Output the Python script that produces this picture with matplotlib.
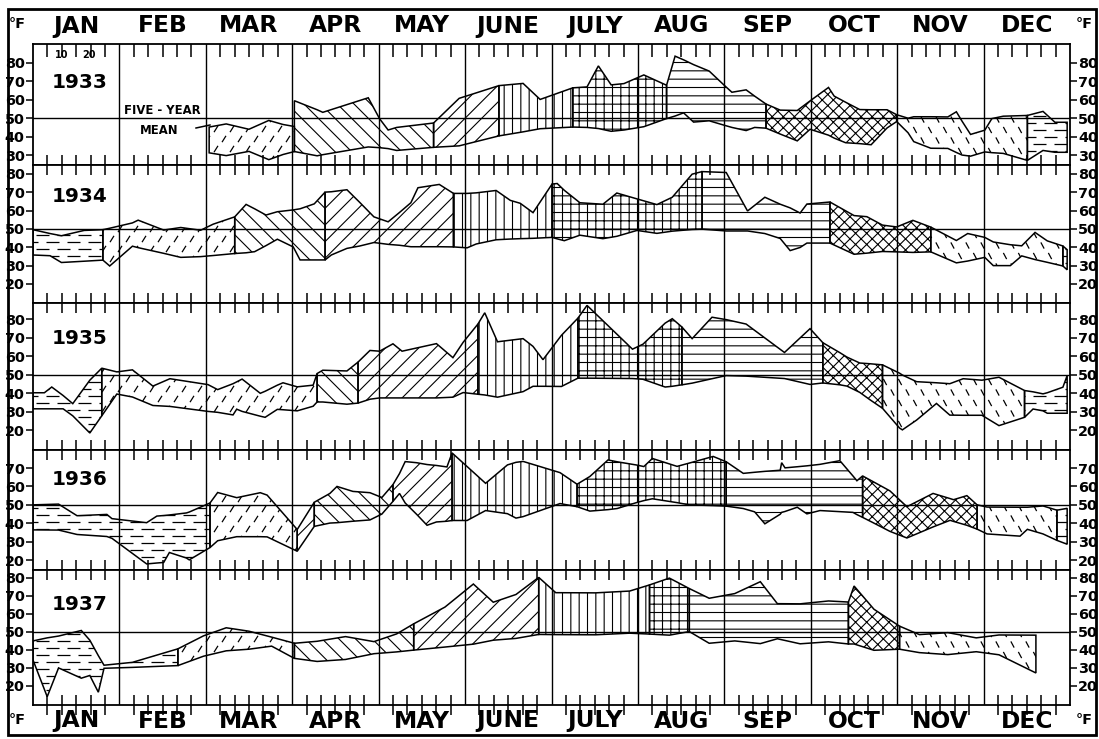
import numpy as np
import matplotlib.pyplot as plt
from matplotlib.patches import Polygon, Rectangle
from matplotlib.collections import LineCollection
from matplotlib.lines import Line2D
from matplotlib import font_manager

installed = {f.name for f in font_manager.fontManager.ttflist}
NARROW = 'Liberation Sans Narrow' in installed
plt.rcParams['font.family'] = 'Liberation Sans Narrow' if NARROW else 'DejaVu Sans'
plt.rcParams['hatch.linewidth'] = 0.8
FS = 1.0 if NARROW else 0.8   # DejaVu runs wider

months = ['JAN', 'FEB', 'MAR', 'APR', 'MAY', 'JUNE',
          'JULY', 'AUG', 'SEP', 'OCT', 'NOV', 'DEC']
years = [1933, 1934, 1935, 1936, 1937]

# weekly max / min temperature (deg F), x = day of year
days_1933 = [62, 68, 76, 83, 88, 92, 92, 100, 102, 118, 122, 125, 128, 141, 150,
             164, 172.5, 178.5, 190, 195, 199, 203.5, 208, 215, 223, 226, 229,
             232.5, 238, 243.5, 246, 251, 254, 258, 263, 269, 273.5, 280, 282,
             286, 291, 295, 300.6, 304, 308, 310, 316, 322, 325, 327, 330, 335,
             337.5, 341.5, 350, 355.5, 359.7, 364]
hi_1933 = [45.2, 46.9, 44.0, 48.8, 46.6, 45.5, 59.5, 54.6, 53.2, 61.1, 49.7, 43.6,
           45.0, 47.4, 60.8, 67.7, 68.9, 60.2, 66.5, 67.0, 78.4, 68.1, 68.8, 73.5,
           67.9, 83.7, 81.7, 79.1, 75.6, 67.6, 64.1, 65.4, 62.0, 57.7, 54.4, 54.2,
           59.4, 66.7, 62.0, 58.7, 54.7, 54.6, 54.6, 51.9, 50.0, 50.8, 50.8, 50.7,
           53.5, 48.4, 41.2, 43.5, 49.8, 51.1, 51.5, 53.7, 47.8, 47.8]
lo_1933 = [31.2, 29.7, 32.0, 27.5, 30.3, 31.9, 31.9, 29.6, 30.2, 34.4, 34.0, 33.5,
           32.5, 34.2, 35.0, 40.4, 42.6, 44.3, 45.2, 45.0, 44.4, 42.9, 43.6, 45.4,
           49.8, 51.2, 52.9, 47.9, 48.6, 46.1, 45.0, 43.3, 45.0, 44.6, 41.4, 37.7,
           44.0, 40.8, 39.2, 36.7, 36.2, 35.6, 44.7, 48.2, 42.1, 37.3, 33.7, 33.6,
           31.4, 30.0, 29.4, 31.7, 31.3, 30.9, 27.1, 32.5, 31.5, 31.5]
runs_1933 = [('f', 5), (' ', 1), ('B', 7), ('F', 2), ('v', 3), ('g', 6),
             ('r', 9), ('x', 10), ('b', 11), ('h', 3)]

days_1934 = [0, 6, 10, 18, 24.6, 27, 35, 37, 46, 52, 59, 63.4, 71, 75, 78, 82, 86,
             91.6, 94, 99, 102.8, 105, 110.5, 115, 120, 125, 129, 133, 135.5, 143,
             148, 152.8, 156, 163, 168, 171.5, 176, 182.7, 184.5, 187, 192.5,
             200.6, 205.5, 212.6, 219.6, 225, 232, 235.5, 244, 251.5, 257.6, 263,
             266.5, 270, 272.4, 280.5, 289, 293.5, 299, 304, 309.7, 316, 325, 329,
             335, 338, 344, 348, 352.7, 357, 362.5, 364]
hi_1934 = [49.6, 47.5, 46.3, 49.2, 49.6, 50.4, 53.3, 54.8, 49.4, 50.8, 49.3, 52.6,
           56.6, 63.4, 61.0, 57.6, 59.4, 60.4, 61.0, 63.7, 70.1, 70.3, 71.4, 64.5,
           56.6, 53.9, 59.0, 64.3, 72.5, 74.3, 69.4, 69.4, 69.7, 71.0, 65.6, 64.0,
           58.9, 74.5, 74.8, 71.1, 64.3, 63.5, 69.6, 66.4, 63.3, 67.3, 79.9, 81.3,
           80.8, 59.8, 67.3, 63.5, 61.5, 58.7, 63.6, 64.7, 57.3, 56.7, 52.1, 51.1,
           54.7, 51.0, 43.7, 47.5, 45.4, 42.9, 41.4, 40.8, 48.1, 43.5, 40.7, 38.7]
lo_1934 = [35.8, 35.4, 31.7, 32.4, 33.0, 29.8, 40.6, 39.8, 36.7, 34.5, 34.9, 35.5,
           36.6, 37.0, 37.6, 40.9, 44.4, 40.2, 33.1, 33.1, 33.1, 35.8, 39.4, 40.7,
           42.6, 41.6, 41.1, 40.3, 40.3, 40.3, 40.2, 39.7, 41.8, 44.1, 44.5, 44.7,
           44.9, 45.4, 44.6, 43.6, 46.6, 44.7, 46.0, 49.2, 47.6, 48.8, 49.7, 49.9,
           48.9, 48.9, 47.5, 44.8, 38.2, 39.9, 42.3, 42.3, 36.2, 36.8, 37.7, 37.5,
           37.2, 37.5, 31.5, 32.5, 34.5, 30.0, 30.0, 35.3, 33.3, 31.8, 29.8, 27.7]
runs_1934 = [('h', 4), ('f', 8), ('B', 8), ('F', 10), ('v', 7), ('g', 10),
             ('r', 8), ('x', 6), ('b', 9), ('h', 1)]

days_1935 = [0, 4, 6.6, 10.6, 14, 20, 24.2, 29.5, 35, 42.2, 48.2, 61.6, 65, 70.4,
             71.7, 73.6, 80, 81.7, 86, 88, 93, 98.6, 100, 102, 110.5, 114.4, 118.6,
             122, 126.7, 129.9, 142, 147.8, 151.4, 156.6, 159, 163.5, 172.5, 176,
             179.5, 186, 191.8, 195, 211, 214.7, 222.5, 225, 228.4, 232, 239, 244,
             251, 264.5, 273.5, 278, 284, 286.5, 291, 294.6, 299, 305, 306, 311,
             318, 322.7, 327.4, 334, 340, 349, 352, 355.5, 357, 362.5, 364]
hi_1935 = [40.2, 40.2, 43.3, 38.7, 34.3, 47.0, 53.5, 51.5, 52.6, 43.8, 47.8, 44.6,
           41.9, 45.1, 46.1, 47.6, 39.9, 41.0, 44.3, 45.6, 43.4, 44.3, 50.6, 52.4,
           52.0, 56.8, 63.1, 62.7, 66.7, 62.7, 66.8, 59.2, 67.5, 77.4, 83.5, 67.8,
           69.5, 65.3, 58.1, 71.3, 80.6, 87.5, 63.8, 66.5, 77.9, 80.3, 75.8, 69.5,
           81.1, 79.8, 77.4, 62.0, 74.9, 67.3, 61.9, 59.5, 56.3, 55.9, 55.3, 50.8,
           49.8, 46.2, 45.6, 45.1, 47.8, 47.0, 48.6, 41.4, 40.7, 39.6, 40.2, 43.2,
           49.5]
lo_1935 = [31.5, 31.5, 31.5, 31.5, 27.7, 18.4, 27.7, 39.5, 37.9, 33.3, 32.8, 30.1,
           29.6, 28.2, 31.3, 30.1, 27.5, 26.9, 31.2, 31.0, 30.4, 32.9, 35.2, 35.2,
           34.0, 34.6, 36.7, 37.4, 37.4, 37.4, 37.4, 37.8, 40.3, 39.4, 39.0, 37.8,
           40.8, 43.7, 43.7, 43.6, 48.1, 48.1, 47.9, 47.5, 43.3, 43.7, 44.5, 45.4,
           47.8, 49.5, 49.2, 47.9, 44.7, 45.5, 44.5, 43.8, 40.4, 36.4, 31.8, 21.1,
           20.1, 25.4, 34.4, 28.1, 28.0, 28.0, 22.4, 26.9, 31.4, 30.4, 29.1, 29.1,
           29.1]
runs_1935 = [('h', 6), ('f', 16), ('B', 3), ('F', 8), ('v', 7), ('g', 6),
             ('r', 7), ('x', 5), ('b', 9), ('h', 5)]

days_1936 = [0, 9, 15.5, 26, 27.8, 40, 43.6, 46, 48, 54, 55, 62.3, 65, 71.7, 80,
             82.4, 93, 99, 104.5, 107, 112.6, 118.6, 122.8, 126.7, 129, 131, 135,
             138.7, 142, 145.7, 147.5, 152.8, 159.3, 167, 170, 172.5, 185.5, 191.5,
             196, 202.4, 205.6, 212.6, 215, 218, 226.7, 231, 239.4, 244, 250, 254,
             257.6, 263, 263.5, 264.7, 269, 272.4, 277, 284, 288.6, 290, 292, 295.7,
             301.6, 307.6, 316.8, 322.8, 324, 328.7, 332.3, 335.8, 347.4, 350,
             355.5, 360.4, 364]
hi_1936 = [50.0, 50.4, 44.1, 44.8, 42.5, 40.3, 43.9, 44.2, 44.5, 45.6, 46.1, 51.0,
           56.7, 53.9, 56.6, 55.3, 36.6, 51.4, 56.2, 60.0, 57.3, 56.6, 54.0, 61.0,
           67.0, 73.5, 72.9, 71.9, 71.4, 70.6, 78.2, 70.8, 61.7, 71.7, 73.1, 73.6,
           67.5, 61.2, 65.4, 74.4, 73.4, 71.6, 70.8, 75.2, 70.9, 72.7, 76.3, 73.4,
           67.1, 67.7, 68.2, 68.8, 72.9, 70.1, 70.7, 71.2, 72.0, 74.0, 65.7, 63.1,
           65.7, 62.6, 57.6, 49.0, 56.2, 53.4, 52.8, 55.0, 50.0, 48.8, 48.7, 48.7,
           49.4, 47.1, 48.1]
lo_1936 = [36.4, 36.3, 33.9, 32.8, 31.8, 17.9, 18.4, 18.7, 24.1, 21.1, 20.1, 26.8,
           30.5, 32.7, 32.7, 32.6, 24.8, 38.3, 40.1, 40.3, 41.1, 41.8, 45.0, 51.9,
           56.2, 51.0, 44.9, 38.9, 40.7, 41.1, 41.5, 41.5, 46.9, 45.2, 42.8, 43.6,
           50.7, 49.0, 46.6, 47.4, 48.0, 51.3, 52.3, 53.3, 51.2, 50.0, 49.6, 49.3,
           48.0, 46.2, 39.7, 44.9, 45.9, 46.4, 48.7, 45.1, 46.9, 46.3, 45.9, 44.7,
           43.2, 40.3, 35.6, 32.0, 38.0, 41.6, 41.0, 38.9, 36.8, 34.2, 33.0, 36.7,
           34.2, 30.7, 28.6]
runs_1936 = [('h', 11), ('f', 5), ('F', 1), ('B', 6), ('F', 7), ('v', 7),
             ('g', 10), ('r', 13), ('x', 8), ('b', 5), ('h', 1)]

days_1937 = [0, 5, 9, 17, 20, 23, 25, 35, 51, 60, 68, 76, 84, 92, 100, 110, 120,
             128, 134, 145, 155, 162, 170, 178, 184, 198, 210, 217, 224, 231, 238,
             247, 256, 262, 270, 280, 287, 289, 296, 305, 312, 322, 332, 340, 353]
hi_1937 = [45.0, 46.7, 47.7, 50.8, 45.4, 36.8, 31.5, 33.1, 40.6, 47.8, 52.3, 50.4,
           47.1, 43.7, 44.8, 47.4, 44.6, 48.9, 54.5, 63.8, 76.6, 66.5, 70.8, 80.3,
           71.8, 71.7, 72.7, 76.1, 79.9, 74.1, 68.7, 71.3, 77.9, 65.7, 65.6, 67.2,
           66.6, 75.5, 62.6, 53.2, 48.5, 49.6, 46.7, 48.3, 48.2]
lo_1937 = [34.4, 14.0, 30.0, 24.3, 25.8, 16.5, 29.8, 30.3, 31.3, 36.5, 39.5, 40.4,
           42.1, 35.3, 33.6, 34.7, 37.9, 38.9, 39.9, 41.6, 43.2, 45.4, 46.4, 48.6,
           48.5, 48.4, 49.3, 48.8, 48.2, 50.2, 43.7, 45.0, 43.5, 46.2, 43.4, 44.5,
           43.3, 43.3, 39.8, 40.4, 38.5, 37.4, 39.0, 37.3, 27.2]
runs_1937 = [('h', 8), ('f', 5), ('B', 5), ('F', 5), ('v', 4), ('g', 2),
             ('r', 7), ('x', 3), ('b', 5)]

bands = [(days_1933, hi_1933, lo_1933, runs_1933),
         (days_1934, hi_1934, lo_1934, runs_1934),
         (days_1935, hi_1935, lo_1935, runs_1935),
         (days_1936, hi_1936, lo_1936, runs_1936),
         (days_1937, hi_1937, lo_1937, runs_1937)]

ylims = [(24.6, 90.3), (9.6, 84.9), (9.2, 88.8), (14.6, 79.8), (9.4, 84.4)]
yticks = [range(30, 81, 10), range(20, 81, 10), range(20, 81, 10),
          range(20, 71, 10), range(20, 81, 10)]

SOLID = {'B': '\\\\', 'F': '//', 'v': '||', 'g': '++', 'r': '--', 'x': 'xxx'}

W, H = 1099, 739
L, R = 33, 1070                       # plot area, pixels
tops = [44, 165, 303, 450, 570]
bots = [165, 303, 450, 570, 705]
year_y = [83, 197, 339, 479, 604]
MONTH = 365 / 12


def fx(px):
    return px / W


def fy(py):
    return 1 - py / H


def dash_segments(kind, x0, x1, y0, y1):
    """Short strokes on a staggered lattice, in display pixels."""
    if kind == 'h':
        dy, period, length, shift, ang = 7.0, 21.0, 13.0, 10.5, 0
    elif kind == 'f':
        dy, period, length, shift, ang = 10.0, 16.0, 7.5, 8.0, 58
    else:
        dy, period, length, shift, ang = 10.5, 15.0, 7.0, 7.5, 118
    ux = np.cos(np.radians(ang)) * length / 2
    uy = np.sin(np.radians(ang)) * length / 2
    segs = []
    for r in range(int(y0 // dy) - 1, int(y1 // dy) + 2):
        yc = r * dy
        off = (r % 2) * shift
        for c in range(int((x0 - off) // period) - 1, int((x1 - off) // period) + 2):
            xc = c * period + off
            segs.append([(xc - ux, yc - uy), (xc + ux, yc + uy)])
    return np.array(segs)


def draw_band(ax, d, hi, lo, runs):
    d, hi, lo = np.asarray(d, float), np.asarray(hi, float), np.asarray(lo, float)
    i = 0
    for code, n in runs:
        j = i + n
        if code != ' ':
            xs = d[i:j + 1]
            xy = np.column_stack([np.r_[xs, xs[::-1]],
                                  np.r_[hi[i:j + 1], lo[i:j + 1][::-1]]])
            p = Polygon(xy, closed=True, fc='none', ec='black', lw=1.1,
                        hatch=SOLID.get(code), zorder=3)
            ax.add_patch(p)
            if code in 'hfb':
                disp = ax.transData.transform(xy)
                segs = dash_segments(code, disp[:, 0].min(), disp[:, 0].max(),
                                     disp[:, 1].min(), disp[:, 1].max())
                inv = ax.transData.inverted()
                segs = inv.transform(segs.reshape(-1, 2)).reshape(-1, 2, 2)
                lc = LineCollection(segs, colors='black', linewidths=0.9, zorder=3)
                ax.add_collection(lc)
                lc.set_clip_path(p)
        i = j


fig = plt.figure(figsize=(W / 100, H / 100), dpi=100)
minor = [MONTH * (k + j / 6) for k in range(12) for j in range(1, 6)]

axes = []
for n, (yr, (d, hi, lo, runs)) in enumerate(zip(years, bands)):
    ax = fig.add_axes([fx(L), fy(bots[n]), fx(R - L), (bots[n] - tops[n]) / H])
    ax.set_xlim(0, 365)
    ax.set_ylim(*ylims[n])
    for s in ax.spines.values():
        s.set_linewidth(1.3)
    ax.set_xticks(minor)
    ax.tick_params(axis='x', top=True, bottom=(n == 4), labeltop=False,
                   labelbottom=False, direction='in' if n == 0 else 'inout',
                   length=9 if n == 0 else 14, width=1.1)
    ax.set_yticks(list(yticks[n]))
    ax.tick_params(axis='y', left=True, right=True, labelleft=True,
                   labelright=True, direction='out', length=5, width=1.1,
                   pad=1, labelsize=13 * FS)
    for lab in ax.get_yticklabels():
        lab.set_fontweight('bold')
    for k in range(1, 12):
        ax.axvline(k * MONTH, color='black', lw=1.0, zorder=1)
    ax.axhline(50, color='black', lw=1.0, zorder=1)
    draw_band(ax, d, hi, lo, runs)
    fig.text(fx(52), fy(year_y[n]), str(yr), fontsize=18 * FS,
             fontweight='bold', ha='left', va='center')
    axes.append(ax)

# month headings, top and bottom
for k, m in enumerate(months):
    cx = fx(L + (k + 0.5) * (R - L) / 12)
    fig.text(cx, fy(26), m, fontsize=21 * FS, fontweight='bold',
             ha='center', va='center')
    fig.text(cx, fy(721), m, fontsize=21 * FS, fontweight='bold',
             ha='center', va='center')
for px, py in [(17, 24), (1084, 24), (17, 720), (1084, 720)]:
    fig.text(fx(px), fy(py), '°F', fontsize=13 * FS, fontweight='bold',
             ha='center', va='center')

# day-of-month marks in the first panel
fig.text(fx(62), fy(55), '10', fontsize=7, fontweight='bold', ha='center', va='center')
fig.text(fx(89), fy(55), '20', fontsize=7, fontweight='bold', ha='center', va='center')

# five-year mean label
fig.text(fx(124), fy(110), 'FIVE - YEAR', fontsize=10.5 * FS, fontweight='bold',
         ha='left', va='center')
fig.text(fx(140), fy(130), 'MEAN', fontsize=10.5 * FS, fontweight='bold',
         ha='left', va='center')
fig.add_artist(Line2D([fx(196), fx(210)], [fy(128), fy(125)],
                      color='black', lw=1.1, transform=fig.transFigure))

# outer frame
fig.add_artist(Rectangle((fx(8), fy(735)), fx(1096 - 8), (735 - 9) / H,
                         fill=False, ec='black', lw=2.0,
                         transform=fig.transFigure))

fig.savefig('out.png', dpi=100)
